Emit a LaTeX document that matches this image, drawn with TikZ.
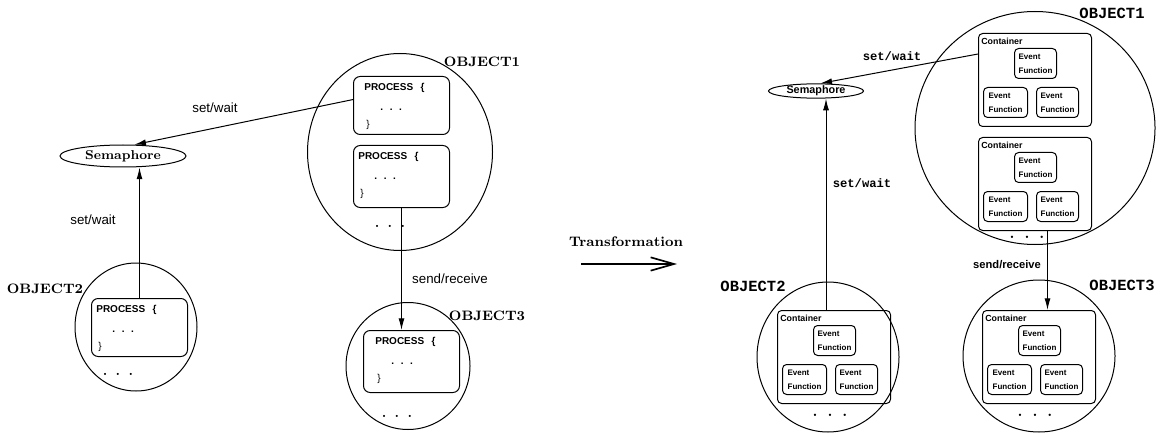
\documentclass[tikz,border=0pt]{standalone}
\usepackage{fontspec}
\setsansfont{Liberation Sans}
\setmonofont{Liberation Mono}
\usetikzlibrary{shapes.geometric,arrows.meta}

\tikzset{
  obj/.style={draw, ellipse, inner sep=0pt, line width=0.6pt},
  procbox/.style={draw, rounded corners=4pt, anchor=north west, minimum width=57.6pt, inner sep=0pt, line width=0.6pt},
  proctext/.style={anchor=west, inner sep=0pt, font=\sffamily\bfseries\fontsize{6}{7}\selectfont},
  contbox/.style={draw, rounded corners=2.5pt, anchor=north west, minimum width=67.8pt, minimum height=55.8pt, inner sep=0pt, line width=0.6pt},
  conttext/.style={anchor=north west, inner sep=0pt, font=\sffamily\bfseries\fontsize{5.3}{6}\selectfont},
  evbox/.style={draw, rounded corners=2.5pt, anchor=north west, minimum width=25.2pt, minimum height=18pt, inner sep=0pt, align=left, line width=0.6pt, font=\sffamily\bfseries\fontsize{4.8}{8.4}\selectfont},
  conn/.style={line width=0.6pt, -{Latex[length=7pt,width=3.6pt]}},
  objlabel/.style={font=\bfseries\fontsize{8.2}{9}\selectfont},
  objlabeltt/.style={font=\ttfamily\bfseries\fontsize{9.3}{10}\selectfont},
  msglabel/.style={font=\sffamily\fontsize{8}{9}\selectfont},
  msglabelbf/.style={font=\sffamily\bfseries\fontsize{6.7}{8}\selectfont},
  msglabeltt/.style={font=\ttfamily\bfseries\fontsize{7.3}{8}\selectfont},
  dots/.style={font=\bfseries\fontsize{8}{9}\selectfont},
}

% process box: name, x, y, height, indent
\newcommand{\drawprocess}[5]{
  \node[procbox, minimum height=#4] (#1) at (#2,#3) {};
  \node[proctext] (#1h) at ({#2+#5},{#3+12}) {PROCESS\hspace{4.5pt}\{};
  \node[proctext] (#1d) at ({#2+#5+16},{#3+34}) {.\hspace{4pt}.\hspace{4pt}.};
  \node[proctext] (#1e) at ({#2+#5+2},{#3+49}) {\mdseries\}};
}

% container with three event functions: name, x, y
\newcommand{\drawcontainer}[3]{
  \node[contbox] (#1) at (#2,#3) {};
  \node[conttext] (#1t) at ({#2+3},{#3+5}) {Container};
  \node[evbox] (#1a) at ({#2+36},{#3+15}) {Event\\Function};
  \node[evbox, minimum width=26.4pt] (#1b) at ({#2+5},{#3+54}) {Event\\Function};
  \node[evbox] (#1c) at ({#2+58},{#3+54}) {Event\\Function};
}

\begin{document}
\begin{tikzpicture}[x=0.6pt, y=-0.6pt]
  \useasboundingbox (0,0) rectangle (1161,433);

  % before
  \node[obj, minimum width=111pt, minimum height=118.2pt] (lobj1) at (400,152) {};
  \node[obj, minimum width=73.2pt, minimum height=76.8pt] (lobj2) at (136,327) {};
  \node[obj, minimum width=74.4pt, minimum height=76.2pt] (lobj3) at (408,366) {};
  \node[obj, font=\bfseries\fontsize{7.7}{9}\selectfont, minimum width=75.6pt, minimum height=13.2pt] (lsem) at (123,156) {Semaphore};

  \node[objlabel] (lobj1l) at (482,62) {OBJECT1};
  \node[objlabel] (lobj2l) at (45,289) {OBJECT2};
  \node[objlabel] (lobj3l) at (487,316) {OBJECT3};

  \drawprocess{p1}{353}{76}{34.8pt}{11}
  \drawprocess{p2}{353}{145}{37.2pt}{5}
  \drawprocess{p3}{91}{298}{34.8pt}{5}
  \drawprocess{p4}{363}{330}{37.2pt}{12}

  \node[dots] (lobj1d) at (390,226) {.\hspace{5pt}.\hspace{5pt}.};
  \node[dots] (lobj2d) at (118,374) {.\hspace{5pt}.\hspace{5pt}.};
  \node[dots] (lobj3d) at (397,416) {.\hspace{5pt}.\hspace{5pt}.};

  \draw[conn] (p1.173) -- (lsem.45);
  \draw[conn] (p3.north) -- (p3.north |- lsem.south);
  \draw[conn] (p2.south) -- (p2.south |- p4.north);
  \node[msglabel] (lsw1) at (215,108) {set/wait};
  \node[msglabel] (lsw2) at (93,220) {set/wait};
  \node[msglabel] (lsr) at (450,279) {send/receive};

  % transformation
  \coordinate (tfrom) at (581,264);
  \coordinate (tto) at (677,264);
  \draw[line width=1pt, -{Straight Barb[length=14pt,width=8pt]}] (tfrom) -- (tto);
  \node[font=\bfseries\fontsize{8.3}{9}\selectfont] (tlab) at (626,242) {Transformation};

  % after
  \node[obj, minimum width=144pt, minimum height=139.8pt] (robj1) at (1035,128) {};
  \node[obj, minimum width=85.2pt, minimum height=90pt] (robj2) at (828,357) {};
  \node[obj, minimum width=91.2pt, minimum height=91.2pt] (robj3) at (1039,356) {};
  \node[obj, font=\sffamily\bfseries\fontsize{6.5}{8}\selectfont, minimum width=57pt, minimum height=8.4pt] (rsem) at (816,91) {Semaphore};

  \node[objlabeltt] (robj1l) at (1112,13) {OBJECT1};
  \node[objlabeltt] (robj2l) at (753,286) {OBJECT2};
  \node[objlabeltt] (robj3l) at (1122,285) {OBJECT3};

  \drawcontainer{c1}{978}{33}
  \drawcontainer{c2}{978}{137}
  \drawcontainer{c3}{777}{310}
  \drawcontainer{c4}{982}{310}

  \node[dots, font=\bfseries\fontsize{9}{10}\selectfont] (robj1d) at (1027,237) {.\hspace{6pt}.\hspace{6pt}.};
  \node[dots, font=\bfseries\fontsize{9}{10}\selectfont] (robj2d) at (830,415) {.\hspace{6pt}.\hspace{6pt}.};
  \node[dots, font=\bfseries\fontsize{9}{10}\selectfont] (robj3d) at (1035,415) {.\hspace{6pt}.\hspace{6pt}.};

  \draw[conn] ([yshift=-12.6pt]c1.north west) -- (rsem.60);
  \draw[conn] ([xshift=-4.8pt]c3.north) -- ([xshift=-4.8pt]c3.north |- rsem.south);
  \draw[conn] ([xshift=7.5pt]c2.south) -- ([xshift=7.5pt]c2.south |- c4.north);
  \node[msglabeltt] (rsw1) at (892,56) {set/wait};
  \node[msglabeltt] (rsw2) at (862,183) {set/wait};
  \node[msglabelbf] (rsr) at (1007,265) {send/receive};
\end{tikzpicture}
\end{document}
